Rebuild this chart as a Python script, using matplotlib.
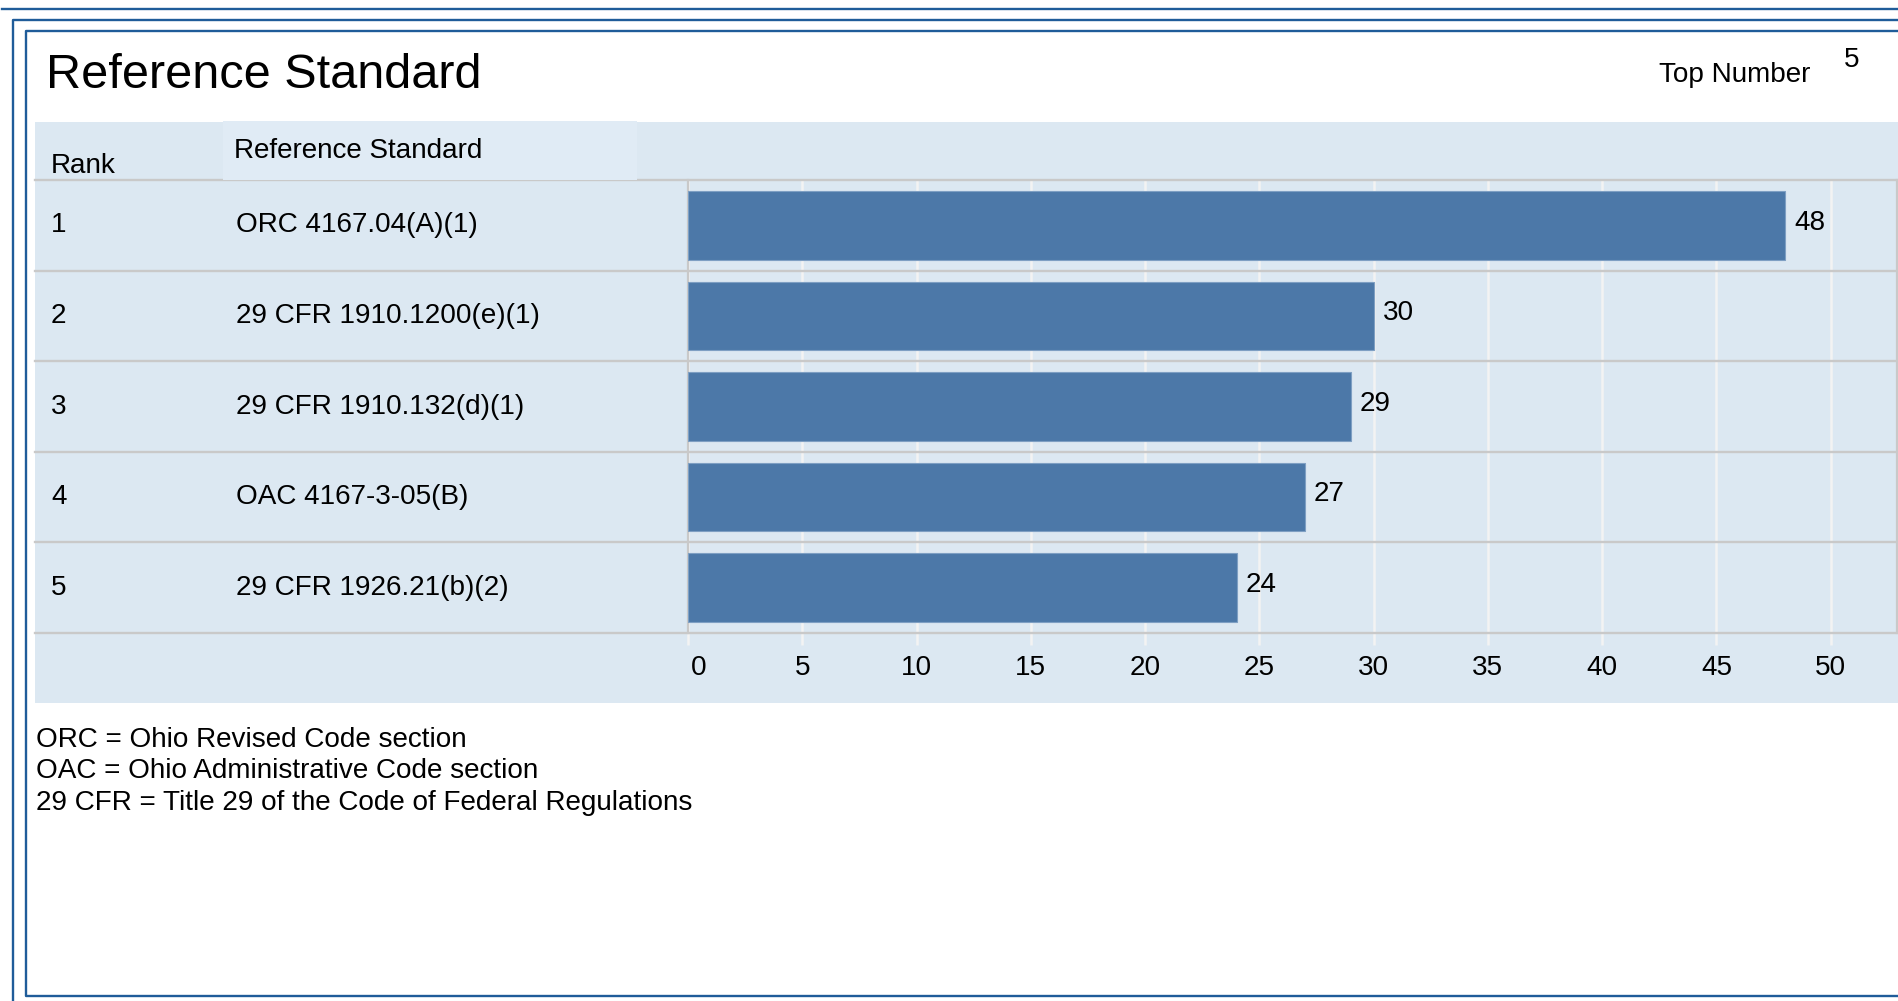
import matplotlib
matplotlib.use("Agg")
import matplotlib.pyplot as plt
from matplotlib.lines import Line2D
from matplotlib.patches import Rectangle
from matplotlib.transforms import blended_transform_factory, ScaledTranslation

plt.rcParams['font.family'] = ['Liberation Sans', 'DejaVu Sans']

# ---- data ----
ranks = [1, 2, 3, 4, 5]
standards = ["ORC 4167.04(A)(1)", "29 CFR 1910.1200(e)(1)", "29 CFR 1910.132(d)(1)",
             "OAC 4167-3-05(B)", "29 CFR 1926.21(b)(2)"]
counts = [48, 30, 29, 27, 24]
xticks = [0, 5, 10, 15, 20, 25, 30, 35, 40, 45, 50]
footnotes = ["ORC = Ohio Revised Code section",
             "OAC = Ohio Administrative Code section",
             "29 CFR = Title 29 of the Code of Federal Regulations"]
title = "Reference Standard"
top_number_label = "Top Number"
top_number = 5

FS = 20.1

W, H = 1899, 1001
fig = plt.figure(figsize=(W / 100, H / 100), dpi=100)
fig.patch.set_facecolor('white')

def fx(x):
    return x / W

def fy(y):
    return 1 - y / H

BLUE = '#1F5C99'
GRAY = '#C9C9C9'
PANEL = '#DCE8F2'

# frames
def fline(xs, ys, **kw):
    fig.add_artist(Line2D([fx(v) for v in xs], [fy(v) for v in ys],
                          transform=fig.transFigure, **kw))

fline([2, W], [9, 9], color=BLUE, lw=1.7)
fline([13.5, 13.5, W], [H, 19.5, 19.5], color=BLUE, lw=1.7)
fline([W, 25.7, 25.7, W], [31.3, 31.3, 995.7, 995.7], color=BLUE, lw=1.7)

# panel background
fig.add_artist(Rectangle((fx(35), fy(703)), fx(W - 35), (703 - 122) / H,
                         transform=fig.transFigure, facecolor=PANEL,
                         edgecolor='none', zorder=0))
fig.add_artist(Rectangle((fx(223), fy(180)), fx(637 - 223), (180 - 121) / H,
                         transform=fig.transFigure, facecolor='#E0EBF5',
                         edgecolor='none', zorder=0.5))

# title and top number
fig.text(fx(46), fy(88), title, fontsize=35, va='baseline', ha='left')
fig.text(fx(1659), fy(82), top_number_label, fontsize=FS, va='baseline', ha='left')
fig.text(fx(1844), fy(67), str(top_number), fontsize=FS, va='baseline', ha='left')

# header texts
fig.text(fx(51), fy(173), "Rank", fontsize=FS, va='baseline', ha='left')
fig.text(fx(234), fy(158), "Reference Standard", fontsize=FS, va='baseline', ha='left')

# footnotes
for t, yb in zip(footnotes, [747, 778.5, 810]):
    fig.text(fx(36), fy(yb), t, fontsize=FS, va='baseline', ha='left')

# bar axes
ax_l, ax_r, ax_t, ax_b = 688, 1897, 180, 633
ax = fig.add_axes([fx(ax_l), fy(ax_b), (ax_r - ax_l) / W, (ax_b - ax_t) / H])
ax.patch.set_visible(False)

y = list(range(len(counts)))
ax.barh(y, counts, height=0.757, color='#4C78A8', edgecolor='#7E9FC3',
        linewidth=0.8, zorder=3)
ax.set_ylim(len(counts) - 0.5, -0.5)
ax.set_xlim(0, 52.9)
ax.set_xticks(xticks)
ax.set_xticklabels([str(v) for v in xticks], fontsize=FS)
ax.set_yticks([])
ax.grid(axis='x', color='#F3F3F3', lw=1.8, zorder=1)
ax.tick_params(axis='x', length=8.5, width=1.8, color='#F3F3F3', pad=7.5)
# first label nudged right, off the axis line
first = ax.get_xticklabels()[0]
first.set_transform(first.get_transform() + ScaledTranslation(11 / 100, 0, fig.dpi_scale_trans))
for s in ['top', 'bottom']:
    ax.spines[s].set_visible(False)
for s in ['left', 'right']:
    ax.spines[s].set_color(GRAY)
    ax.spines[s].set_linewidth(1.6)

# row lines spanning table + chart
xmin_frac = (35 - ax_l) / (ax_r - ax_l)
for b in [i - 0.5 for i in range(len(counts) + 1)]:
    ax.axhline(b, xmin=xmin_frac, xmax=1, color=GRAY, lw=1.7, clip_on=False, zorder=2)

# value labels
for yi, v in zip(y, counts):
    ax.annotate(str(v), (v, yi), xytext=(6.5, 2), textcoords='offset points',
                va='center', ha='left', fontsize=FS, zorder=4)

# table text
tr = blended_transform_factory(fig.transFigure, ax.transData)
for yi, r, s in zip(y, ranks, standards):
    ax.text(fx(51), yi, str(r), transform=tr, fontsize=FS, va='center', ha='left')
    ax.text(fx(236), yi, s, transform=tr, fontsize=FS, va='center', ha='left')

fig.savefig('out.png', dpi=100, facecolor='white')
